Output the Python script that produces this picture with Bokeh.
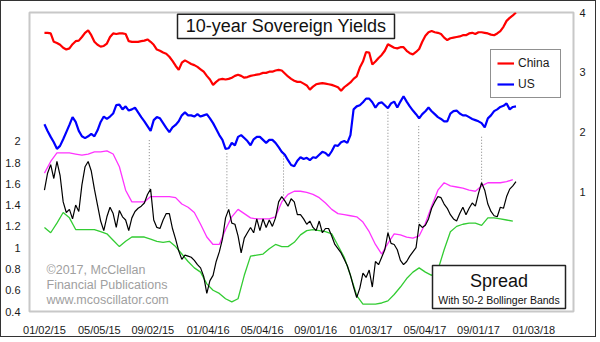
import pandas as pd
from bokeh.plotting import figure
from bokeh.models import (Range1d, LinearAxis, FixedTicker, DatetimeTickFormatter,
                          BoxAnnotation, Label, Legend, LegendItem)
from bokeh.embed import file_html
from bokeh.resources import INLINE

# ---------------- data (weekly samples) ----------------
dates = pd.date_range("2015-01-02", periods=152, freq="7D")

china = [3.66,3.66,3.65,3.51,3.49,3.46,3.41,3.38,3.40,3.47,
         3.52,3.53,3.59,3.66,3.70,3.62,3.51,3.46,3.43,3.44,
         3.48,3.59,3.65,3.64,3.65,3.65,3.64,3.52,3.51,3.51,
         3.51,3.52,3.53,3.55,3.51,3.46,3.38,3.36,3.33,3.31,
         3.26,3.19,3.11,3.04,3.16,3.20,3.17,3.14,3.12,3.09,
         3.05,3.01,2.94,2.88,2.79,2.84,2.88,2.89,2.88,2.89,
         2.91,2.94,2.96,2.94,2.91,2.92,2.94,2.95,2.96,2.97,
         2.99,2.99,3.01,3.01,3.03,3.04,3.03,2.98,2.93,2.89,
         2.86,2.84,2.84,2.81,2.78,2.71,2.76,2.80,2.81,2.82,
         2.81,2.80,2.79,2.77,2.75,2.69,2.75,2.79,2.83,2.89,
         2.93,3.08,3.18,3.34,3.33,3.13,3.18,3.24,3.29,3.36,
         3.47,3.44,3.41,3.40,3.42,3.42,3.36,3.32,3.30,3.34,
         3.39,3.51,3.61,3.67,3.69,3.67,3.66,3.64,3.58,3.54,
         3.57,3.58,3.59,3.60,3.62,3.62,3.65,3.66,3.64,3.67,
         3.67,3.66,3.65,3.63,3.62,3.65,3.69,3.76,3.86,3.91,
         3.95,4.00]

us = [2.13,2.02,1.92,1.83,1.72,1.77,1.88,2.00,2.12,2.25,
      2.17,2.02,1.93,1.90,1.93,1.97,1.93,2.03,2.17,2.26,
      2.22,2.26,2.31,2.45,2.46,2.38,2.43,2.36,2.38,2.41,
      2.33,2.25,2.18,2.10,2.02,2.20,2.25,2.23,2.15,2.07,
      2.00,2.08,2.12,2.18,2.28,2.33,2.28,2.28,2.26,2.30,
      2.26,2.28,2.30,2.23,2.15,2.05,1.95,1.87,1.72,1.73,
      1.82,1.78,1.92,1.95,1.90,1.85,1.78,1.88,1.92,1.92,
      1.87,1.82,1.87,1.87,1.82,1.75,1.67,1.62,1.53,1.45,
      1.43,1.52,1.58,1.55,1.57,1.53,1.58,1.57,1.62,1.67,
      1.65,1.60,1.68,1.78,1.77,1.83,1.85,1.82,1.95,2.38,
      2.43,2.45,2.50,2.56,2.56,2.50,2.41,2.48,2.50,2.45,
      2.40,2.48,2.51,2.41,2.51,2.60,2.51,2.43,2.36,2.30,
      2.23,2.30,2.35,2.41,2.35,2.30,2.25,2.22,2.18,2.18,
      2.31,2.35,2.36,2.31,2.28,2.28,2.25,2.22,2.20,2.18,
      2.15,2.08,2.23,2.28,2.35,2.38,2.42,2.44,2.48,2.38,
      2.42,2.43]

spread = [1.54,1.70,1.78,1.65,1.81,1.68,1.43,1.33,1.36,1.27,
          1.40,1.34,1.59,1.76,1.81,1.72,1.55,1.40,1.25,1.16,
          1.29,1.38,1.32,1.19,1.35,1.29,1.26,1.16,1.28,1.34,
          1.37,1.39,1.42,1.50,1.55,1.26,1.19,1.18,1.26,1.32,
          1.32,1.18,1.08,0.97,0.89,0.93,0.92,0.91,0.88,0.84,
          0.81,0.73,0.57,0.69,0.74,0.87,0.96,1.08,1.28,1.36,
          1.23,1.22,1.11,0.95,1.09,1.14,1.19,1.14,1.27,1.16,
          1.27,1.19,1.26,1.20,1.28,1.43,1.48,1.44,1.39,1.46,
          1.43,1.31,1.31,1.27,1.22,1.25,1.19,1.16,1.25,1.14,
          1.18,1.18,1.11,1.03,0.99,0.95,0.89,0.83,0.74,0.63,
          0.53,0.62,0.76,0.72,0.79,0.63,0.87,0.84,0.91,0.98,
          1.14,1.04,1.03,0.98,0.88,0.84,0.87,0.92,0.96,1.00,
          1.22,1.19,1.21,1.27,1.37,1.43,1.48,1.47,1.41,1.37,
          1.31,1.27,1.25,1.32,1.38,1.31,1.37,1.42,1.39,1.51,
          1.61,1.54,1.41,1.34,1.30,1.29,1.38,1.37,1.48,1.55,
          1.58,1.62]

band_dates = dates[::2]
upper = [1.70,1.81,1.89,1.89,1.89,1.88,1.87,1.88,1.90,1.90,
         1.91,1.88,1.76,1.54,1.43,1.43,1.43,1.48,1.48,1.48,
         1.48,1.47,1.41,1.38,1.33,1.22,1.10,1.03,1.03,1.17,
         1.29,1.36,1.32,1.28,1.27,1.27,1.27,1.29,1.43,1.50,
         1.53,1.53,1.52,1.50,1.47,1.42,1.36,1.32,1.31,1.30,
         1.29,1.24,1.15,1.03,0.94,1.04,1.13,1.12,1.10,1.09,
         1.11,1.23,1.39,1.54,1.61,1.58,1.57,1.56,1.54,1.53,
         1.58,1.61,1.61,1.61,1.62,1.64]
lower = [1.19,1.14,1.23,1.33,1.28,1.17,1.17,1.17,1.17,1.15,
         1.13,1.07,1.01,1.06,1.10,1.10,1.10,1.08,1.06,1.05,
         1.06,1.01,0.94,0.87,0.81,0.77,0.66,0.60,0.57,0.52,
         0.49,0.52,0.74,0.92,0.93,0.94,0.99,1.03,1.01,1.01,
         1.05,1.12,1.16,1.17,1.16,1.15,1.13,1.02,0.91,0.74,
         0.55,0.47,0.47,0.47,0.48,0.50,0.56,0.63,0.71,0.77,
         0.81,0.77,0.74,0.79,0.98,1.15,1.20,1.22,1.23,1.23,
         1.21,1.28,1.28,1.27,1.26,1.25]

peak_dates = pd.to_datetime(["2015-08-25", "2016-02-15", "2016-06-21",
                             "2017-02-10", "2017-04-20", "2017-09-08"])
peak_spread = [1.55, 1.37, 1.49, 1.14, 1.23, 1.61]   # left axis
peak_us = [1.87, 1.67, 1.68, 2.35, 2.13, 1.93]       # right axis

x_tick_dates = ["2015-01-02", "2015-05-05", "2015-09-02", "2016-01-04", "2016-05-04",
                "2016-09-01", "2017-01-03", "2017-05-04", "2017-09-01", "2018-01-03"]
left_ticks = [0.4, 0.6, 0.8, 1, 1.2, 1.4, 1.6, 1.8, 2]
left_labels = ["0.4", "0.6", "0.8", "1", "1.2", "1.4", "1.6", "1.8", "2"]
right_ticks = [1, 2, 3, 4]

# ---------------- figure ----------------
FONT = "Liberation Sans"
OFF = 1  # the 1px css border shifts the canvas by one pixel
yl = Range1d(0.4, 3.21)
yr = Range1d(-1, 4)
p = figure(width=596, height=337, x_axis_type="datetime",
           x_range=Range1d(pd.Timestamp("2014-11-29 12:00"), pd.Timestamp("2018-04-02")),
           y_range=yl, output_backend="svg", toolbar_location=None,
           min_border_left=28, min_border_right=24, min_border_top=11, min_border_bottom=24,
           background_fill_color="white", border_fill_color="white",
           styles={"border": "1px solid #333"})
p.extra_y_ranges = {"r": yr}
p.grid.visible = False
p.outline_line_color = "#c8c8c8"
p.outline_line_width = 2

raxis = LinearAxis(y_range_name="r", ticker=FixedTicker(ticks=right_ticks, minor_ticks=[]))
p.add_layout(raxis, "right")

p.xaxis.ticker = FixedTicker(ticks=[pd.Timestamp(d).value / 1e6 for d in x_tick_dates], minor_ticks=[])
fmt = "%m/%d/%y"
p.xaxis.formatter = DatetimeTickFormatter(microseconds=fmt, milliseconds=fmt, seconds=fmt,
                                          minsec=fmt, minutes=fmt, hourmin=fmt, hours=fmt,
                                          days=fmt, months=fmt, years=fmt)
p.yaxis[0].ticker = FixedTicker(ticks=left_ticks, minor_ticks=[])
p.yaxis[0].major_label_overrides = dict(zip(left_ticks, left_labels))

for ax in p.axis:
    ax.axis_line_color = None
    ax.major_tick_line_color = None
    ax.minor_tick_line_color = None
    ax.major_tick_out = 0
    ax.major_tick_in = 0
    ax.minor_tick_out = 0
    ax.minor_tick_in = 0
    ax.major_label_text_font = FONT
    ax.major_label_text_font_size = "11px"
    ax.major_label_text_color = "#1a1a1a"
p.xaxis.major_label_standoff = 12
p.yaxis[0].major_label_standoff = 9
raxis.major_label_standoff = 6

# dotted connectors (US value converted into the left-axis space)
scale = (yl.end - yl.start) / (yr.end - yr.start)
peak_top = [yl.start + (v - yr.start) * scale for v in peak_us]
p.segment(x0=peak_dates, y0=peak_spread, x1=peak_dates, y1=peak_top,
          line_color="#808080", line_width=1, line_dash="1 2")

# bands and spread
p.line(band_dates, upper, line_color="#ff33ff", line_width=1.3)
p.line(band_dates, lower, line_color="#33cc33", line_width=1.3)
p.line(dates, spread, line_color="black", line_width=1.2)

# yields
r_us = p.line(dates, us, line_color="#0000ff", line_width=2.2, y_range_name="r")
r_cn = p.line(dates, china, line_color="#ff0000", line_width=2.2, y_range_name="r")

legend = Legend(items=[LegendItem(label="China", renderers=[r_cn]),
                       LegendItem(label="US", renderers=[r_us])],
                location=(461, 213), orientation="vertical",
                border_line_color="#222", border_line_width=1.5,
                background_fill_color="white", background_fill_alpha=1,
                padding=6, spacing=7, margin=0,
                glyph_width=17, glyph_height=14, label_height=14, label_width=36,
                label_standoff=4, label_text_font=FONT, label_text_font_size="12px",
                label_text_color="#1a1a1a")
p.add_layout(legend)

def box(l, r, t, b, lw=1.5, color="#222"):
    p.add_layout(BoxAnnotation(left=l - OFF, right=r - OFF, top=t - OFF, bottom=b - OFF,
                               left_units="canvas", right_units="canvas",
                               top_units="canvas", bottom_units="canvas",
                               fill_color="white", fill_alpha=1,
                               line_color=color, line_width=lw, line_alpha=1))

def label(x, y, text, size, color="#111", align="left"):
    p.add_layout(Label(x=x - OFF, y=y - OFF, x_units="canvas", y_units="canvas", text=text,
                       text_font=FONT, text_font_size=size, text_color=color,
                       text_align=align, text_baseline="middle"))

# title box (top edge kept just inside the plot frame)
box(176, 393, 12.8, 37)
label(284.5, 24.5, "10-year Sovereign Yields", "18px", align="center")

# spread box
box(431, 564, 264, 307)
label(497.5, 279, "Spread", "18px", align="center")
label(497.5, 298, "With 50-2 Bollinger Bands", "10.5px", align="center")

# copyright
label(45, 268, "\u00a92017, McClellan", "12.5px", color="#a0a0a0")
label(45, 283, "Financial Publications", "12.5px", color="#a0a0a0")
label(45, 298, "www.mcoscillator.com", "12.5px", color="#a0a0a0")

open("out.html", "w").write(file_html(p, INLINE))
